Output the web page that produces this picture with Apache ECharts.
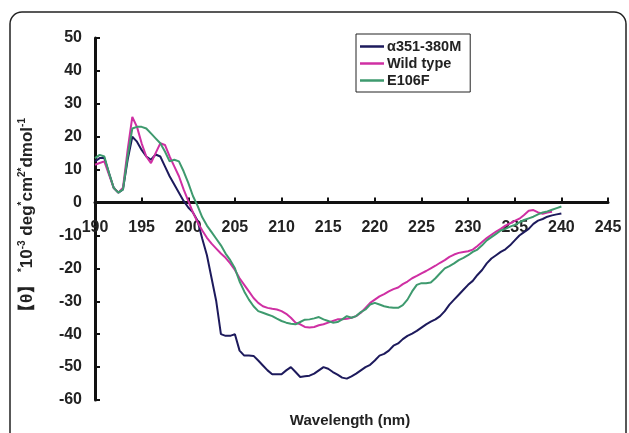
<!DOCTYPE html>
<html>
<head>
<meta charset="utf-8">
<script src="https://cdn.jsdelivr.net/npm/echarts@6/dist/echarts.min.js"></script>
<style>
  html, body { margin: 0; padding: 0; background: #fff; }
  #chart { width: 629px; height: 433px; }
</style>
</head>
<body>
<div id="chart"></div>
<script>
// wavelength grid, 0.5 nm steps
const wavelength = [];
for (let w = 190; w <= 240; w += 0.5) wavelength.push(w);

const seriesNames = ['α351-380M', 'Wild type', 'E106F'];

// values (x10^-3 deg cm2 dmol-1)
const alphaM = [
    12.5, 13.5, 13.5, 9, 4.5, 3, 4, 13, 20, 18.5,
    16, 14, 13, 14.6, 14, 11, 8, 5.5, 3, 0.5,
    -1.5, -3, -5.5, -11, -16, -23, -30, -40, -40.5, -40.5,
    -40, -45, -46.5, -46.5, -46.6, -48, -49.5, -51, -52.2, -52.2,
    -52.2, -51, -50, -51.5, -53, -52.8, -52.6, -52, -51, -50,
    -50.5, -51.5, -52.3, -53.2, -53.5, -52.8, -52, -51, -50, -49.3,
    -48, -46.5, -46, -45, -43.5, -42.8, -41.5, -40.5, -39.8, -39,
    -38, -37, -36.2, -35.5, -34.5, -33, -31, -29.5, -28, -26.5,
    -25, -23.8, -22, -20.5, -18.5, -17, -16, -15, -14.2, -13,
    -11.5, -10, -9, -8, -6.5, -5.5, -5, -4.3, -3.9, -3.6,
    -3.3
];
const wildType = [
    11.5, 12, 12.5, 8.5, 4.5, 3, 4.5, 16, 26, 23,
    18, 14, 12, 15, 18, 17.5, 14, 11, 8, 4,
    0.5, -3, -6, -8.5, -10.7, -12.5, -14, -15.5, -16.8, -18.5,
    -20.5, -23, -25, -27, -29, -30.5, -31.5, -32, -32.3, -32.5,
    -33, -33.8, -35, -36.5, -37, -37.8, -38, -37.8, -37.3, -37,
    -36.5, -36, -35.5, -35.5, -35.3, -35, -34.5, -33.5, -32, -30.5,
    -29.5, -28.5, -27.8, -27, -26.3, -25.8, -24.8, -24, -23, -22.3,
    -21.5, -20.8, -20, -19.2, -18.3, -17.5, -16.5, -15.8, -15.3, -15,
    -14.8, -14.3, -13.2, -12, -10.8, -9.8, -8.8, -8, -7, -6.3,
    -5.6, -4.9, -3.8, -2.5, -2.3, -3, -3.4, -3, -2.8
];
const e106f = [
    13.5, 14.5, 14, 9, 4.5, 3, 4, 14, 22.5, 23,
    23, 22.5, 21, 19.5, 18, 15.5, 12.5, 13, 12.5, 9.5,
    6, 2, -1, -4.5, -7, -9, -11, -13, -15.5, -17.5,
    -20, -24, -27, -29.5, -31.5, -33, -33.5, -34, -34.5, -35.3,
    -36, -36.5, -36.8, -37, -36.3, -35.6, -35.5, -35.2, -34.8, -35.5,
    -36, -36.5, -36.3, -35.5, -34.5, -35, -34.5, -33.3, -32.5, -31,
    -30.5, -31, -31.5, -31.8, -32, -32, -31.2, -29.5, -27, -25,
    -24.5, -24.5, -24.3, -23, -21.5, -20, -19.3, -18.5, -17.5, -16.8,
    -16, -15, -14.3, -13, -11.5, -10.5, -9.5, -8.5, -8, -7.3,
    -6.8, -6, -5.3, -4.8, -4.3, -3.6, -3, -2.7, -2.2, -1.7,
    -1.2
];

const colors = ['#1d1a5c', '#cf2fa3', '#3e9a6e'];
const font = 'Liberation Sans, Arial, sans-serif';

const yMin = -60, yMax = 50;
const gridTop = 38, gridBottom = 33, chartH = 433;
// x axis sits on the zero line (onZero does not kick in here), so push it up
const plotH = chartH - gridTop - gridBottom;
const xAxisOffset = -plotH * (0 - yMin) / (yMax - yMin);

function pairs(vals) {
    return vals.map((v, i) => [wavelength[i], v]);
}

let chart = echarts.init(document.getElementById('chart'));
let option = {
    backgroundColor: '#fff',
    animation: false,
    color: colors,
    grid: {left: 95, right: 21, top: gridTop, bottom: gridBottom},
    legend: {
        orient: 'vertical',
        left: 356,
        top: 34,
        padding: [5, 9, 4, 4],
        borderColor: '#222',
        borderWidth: 1,
        itemWidth: 24,
        itemHeight: 2.5,
        itemGap: 2,
        icon: 'rect',
        selectedMode: false,
        textStyle: {
            fontFamily: font,
            fontWeight: 'bold',
            fontSize: 14.5,
            lineHeight: 14,
            color: '#222',
            padding: [0, 0, 0, -2]
        },
        data: seriesNames
    },
    xAxis: {
        type: 'value',
        min: 190,
        max: 245,
        interval: 5,
        offset: xAxisOffset,
        splitLine: {show: false},
        axisLine: {onZero: false, lineStyle: {color: '#111', width: 3}},
        axisTick: {inside: true, length: 5, lineStyle: {color: '#111', width: 2}},
        axisLabel: {
            margin: 17,
            color: '#222',
            fontFamily: font,
            fontWeight: 'bold',
            fontSize: 16
        }
    },
    yAxis: {
        type: 'value',
        min: yMin,
        max: yMax,
        interval: 10,
        splitLine: {show: false},
        axisLine: {onZero: false, lineStyle: {color: '#111', width: 3}},
        axisTick: {inside: true, length: 5, lineStyle: {color: '#111', width: 2}},
        axisLabel: {
            margin: 13,
            color: '#222',
            fontFamily: font,
            fontWeight: 'bold',
            fontSize: 16
        },
        name: '【θ】 {s|*}10{s|-3} deg{s|*}cm{s|2}{s|*}dmol{s|-1}',
        nameLocation: 'middle',
        nameGap: 58,
        nameTextStyle: {
            color: '#222',
            fontFamily: font,
            fontWeight: 'bold',
            fontSize: 17,
            rich: {
                s: {
                    fontFamily: font,
                    fontWeight: 'bold',
                    fontSize: 10,
                    color: '#222',
                    padding: [0, 0, 10, 0]
                }
            }
        }
    },
    graphic: [{
        type: 'rect',
        shape: {x: 10, y: 12, width: 616, height: 460, r: 12},
        style: {fill: 'none', stroke: '#222', lineWidth: 1.5},
        silent: true
    }, {
        type: 'text',
        x: 350,
        y: 421,
        style: {
            text: 'Wavelength (nm)',
            fill: '#222',
            font: 'bold 15px ' + font,
            textAlign: 'center',
            textVerticalAlign: 'middle'
        }
    }],
    series: [{
        name: seriesNames[0],
        type: 'line',
        showSymbol: false,
        lineStyle: {width: 2},
        data: pairs(alphaM)
    }, {
        name: seriesNames[1],
        type: 'line',
        showSymbol: false,
        lineStyle: {width: 2},
        data: pairs(wildType)
    }, {
        name: seriesNames[2],
        type: 'line',
        showSymbol: false,
        lineStyle: {width: 2},
        data: pairs(e106f)
    }]
};
chart.setOption(option);
</script>
</body>
</html>
